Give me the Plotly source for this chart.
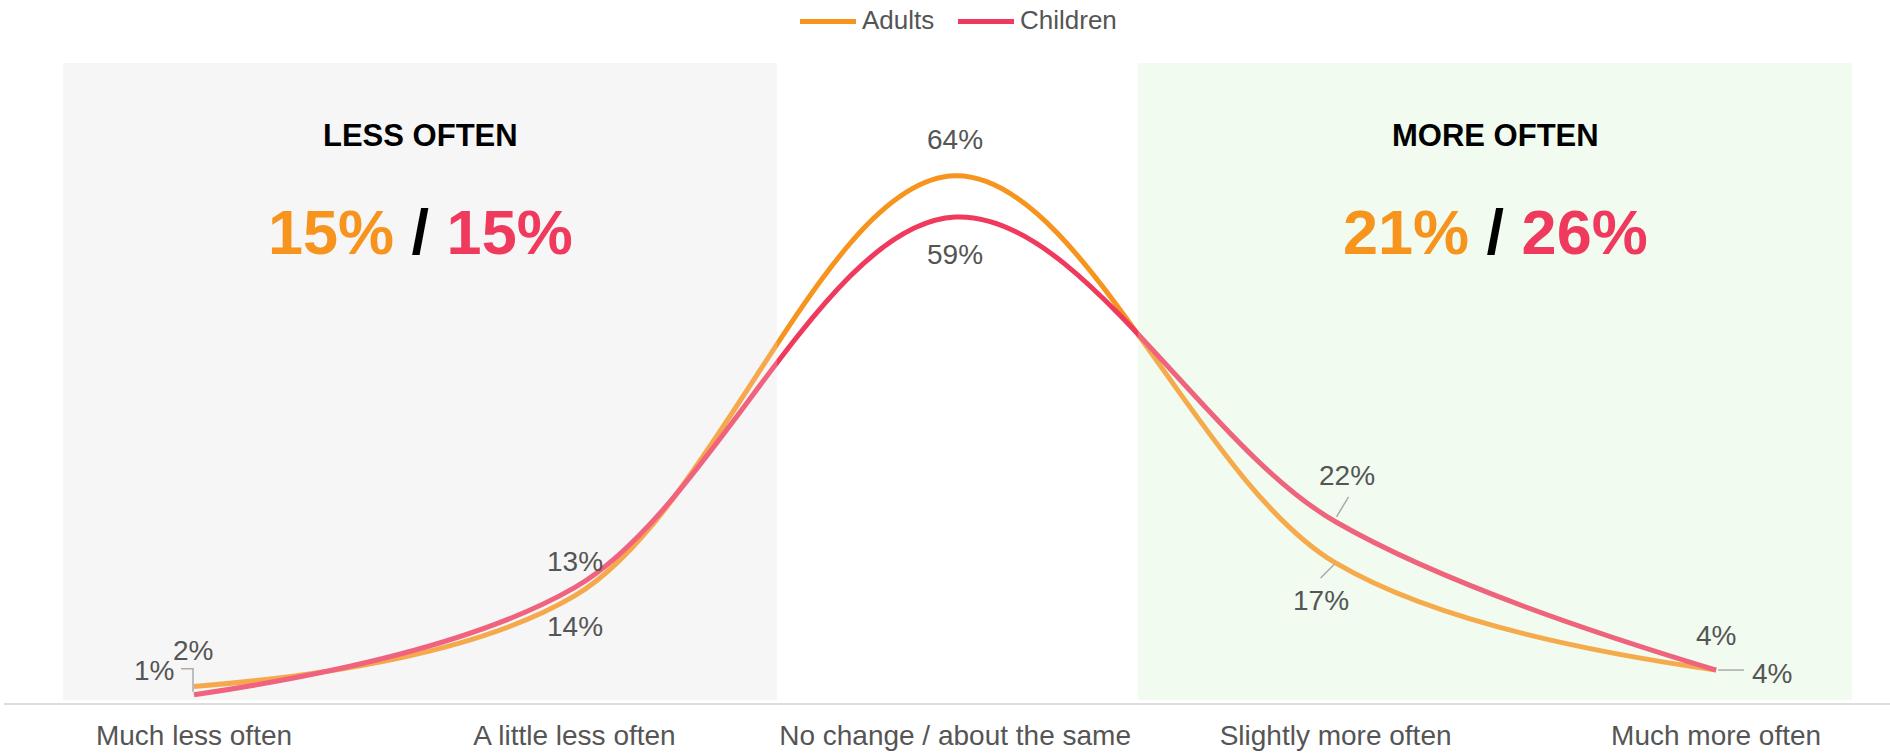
import plotly.graph_objects as go

# Survey categories and shares (%) for each group
categories = ["Much less often", "A little less often", "No change / about the same",
              "Slightly more often", "Much more often"]
adults = [2, 13, 64, 17, 4]
children = [1, 14, 59, 22, 4]
series_names = ["Adults", "Children"]

ORANGE = "#F7941D"
PINK = "#EF3A5D"
GREY_BAND = "#F6F6F6"
GREEN_BAND = "#F1FCF0"
LABEL_GREY = "#555555"
FONT = "Arial, Liberation Sans, sans-serif"

W, H = 1890, 755
M_L, M_R, M_T, M_B = 4, 0, 63, 52
PW, PH = W - M_L - M_R, H - M_T - M_B


def px(x):
    return (x - M_L) / PW


def py(y):
    return (H - M_B - y) / PH


fig = go.Figure()
for name, vals, col in [(series_names[0], adults, ORANGE), (series_names[1], children, PINK)]:
    fig.add_trace(go.Scatter(
        x=categories, y=vals, name=name, mode="lines",
        line=dict(color=col, width=5, shape="spline", smoothing=1),
        hoverinfo="x+y", showlegend=False,
    ))

shapes = []
# shaded regions: solid fill below the lines plus a light veil above them
for x0, x1, col in [(63, 777, GREY_BAND), (1138, 1852, GREEN_BAND)]:
    shapes.append(dict(type="rect", xref="paper", yref="paper", x0=px(x0), x1=px(x1),
                       y0=py(700), y1=1, fillcolor=col, line_width=0, layer="below"))
    shapes.append(dict(type="rect", xref="paper", yref="paper", x0=px(x0), x1=px(x1),
                       y0=py(700), y1=1, fillcolor=col, opacity=0.22, line_width=0, layer="above"))

# legend
for (x0, x1), col in [((800, 856), ORANGE), ((958, 1014), PINK)]:
    shapes.append(dict(type="line", xref="paper", yref="paper", x0=px(x0), x1=px(x1),
                       y0=py(21.5), y1=py(21.5), line=dict(color=col, width=5)))

LEADER = dict(color="#AAAAAA", width=1.5)


def leader(xcat, yval, path):
    shapes.append(dict(type="path", xref="x", yref="y", xsizemode="pixel", ysizemode="pixel",
                       xanchor=xcat, yanchor=yval, path=path, line=LEADER, layer="above"))


leader(categories[0], children[0], "M -1 3 L -1 26 L -13 26")
leader(categories[3], children[3], "M 1 5 L 13 25")
leader(categories[3], adults[3], "M -1 -1 L -15 -15")
leader(categories[4], children[4], "M 2 0 L 28 0")

annotations = []
# value labels: (category index, value, dx, dy) with dy positive upward
label_specs = [
    (0, adults[0], -1, 36),
    (0, children[0], -40, 24),
    (1, adults[1], 0, 34),
    (1, children[1], 0, -39),
    (2, adults[2], 0, 36),
    (2, children[2], 0, -37),
    (3, children[3], 11, 46),
    (3, adults[3], -15, -38),
    (4, adults[4], 0, 35),
    (4, children[4], 56, -3),
]
for i, v, dx, dy in label_specs:
    annotations.append(dict(x=categories[i], y=v, xref="x", yref="y", text=f"{v}%",
                            showarrow=False, xshift=dx, yshift=dy,
                            font=dict(family=FONT, size=28, color=LABEL_GREY)))

# legend text
for x0, txt in [(860, series_names[0]), (1018, series_names[1])]:
    annotations.append(dict(x=px(x0), y=py(20), xref="paper", yref="paper", text=txt,
                            xanchor="left", yanchor="middle", showarrow=False,
                            font=dict(family=FONT, size=26, color=LABEL_GREY)))

less_a, less_c = adults[0] + adults[1], children[0] + children[1]
more_a, more_c = adults[3] + adults[4], children[3] + children[4]
for cx, title, a, c in [(420, "LESS OFTEN", less_a, less_c), (1495, "MORE OFTEN", more_a, more_c)]:
    annotations.append(dict(x=px(cx), y=py(135), xref="paper", yref="paper",
                            text=f"<b>{title}</b>", showarrow=False,
                            xanchor="center", yanchor="middle",
                            font=dict(family=FONT, size=31, color="#000000")))
    annotations.append(dict(x=px(cx), y=py(232), xref="paper", yref="paper",
                            text=(f"<b><span style='color:{ORANGE}'>{a}%</span> / "
                                  f"<span style='color:{PINK}'>{c}%</span></b>"),
                            showarrow=False, xanchor="center", yanchor="middle",
                            font=dict(family=FONT, size=63, color="#000000")))

fig.update_layout(
    width=W, height=H,
    margin=dict(l=M_L, r=M_R, t=M_T, b=M_B, pad=0),
    paper_bgcolor="white", plot_bgcolor="white",
    shapes=shapes, annotations=annotations, showlegend=False,
    xaxis=dict(type="category", range=[-0.4993, 4.457], showgrid=False, zeroline=False,
               showline=True, linecolor="#DDDDDD", linewidth=2, ticks="",
               ticklabelstandoff=6,
               tickfont=dict(family=FONT, size=28, color=LABEL_GREY), fixedrange=True),
    yaxis=dict(range=[0, 77.7], showgrid=False, zeroline=False, showticklabels=False,
               showline=False, fixedrange=True),
)

fig.write_html("out.html", config={"displayModeBar": False})
